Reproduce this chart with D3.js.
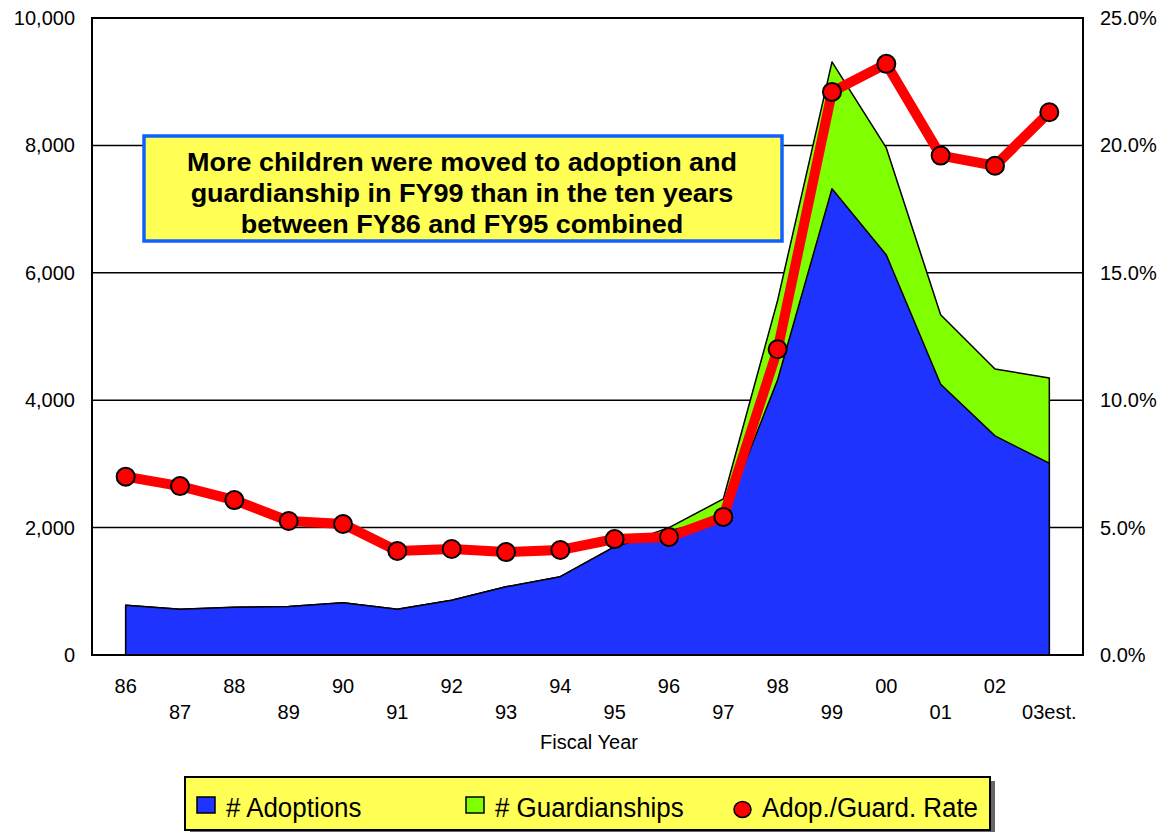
<!DOCTYPE html>
<html>
<head>
<meta charset="utf-8">
<script src="https://cdn.jsdelivr.net/npm/d3@7"></script>
<style>
  body { margin: 0; background: #fff; }
  svg text { font-family: "Liberation Sans", Arial, sans-serif; }
</style>
</head>
<body>
<div id="chart"></div>
<script>
// Data
const years = ["86", "87", "88", "89", "90", "91", "92", "93", "94", "95", "96", "97", "98", "99", "00", "01", "02", "03est."];
const adoptions = [780, 720, 750, 760, 820, 720, 860, 1070, 1230, 1700, 1950, 2150, 4320, 7320, 6280, 4250, 3440, 3010];
const guardianships = [0, 0, 0, 0, 0, 0, 0, 0, 0, 0, 50, 300, 1250, 1990, 1680, 1090, 1050, 1340];
const rate = [7.0, 6.63, 6.08, 5.26, 5.14, 4.08, 4.16, 4.04, 4.12, 4.55, 4.63, 5.42, 12.0, 22.1, 23.2, 19.6, 19.2, 21.3];
const leftTicks = [0, 2000, 4000, 6000, 8000, 10000];
const rightTicks = [0, 5, 10, 15, 20, 25];
const noteLines = ["More children were moved to adoption and", "guardianship in FY99 than in the ten years", "between FY86 and FY95 combined"];

const width = 1160, height = 832;
const plot = { left: 92, right: 1083, top: 18, bottom: 655 };

const svg = d3.select("#chart").append("svg")
    .attr("width", width)
    .attr("height", height);

const x = d3.scalePoint().domain(years).range([plot.left, plot.right]).padding(0.62);
const y = d3.scaleLinear().domain([0, 10000]).range([plot.bottom, plot.top]);
const yr = d3.scaleLinear().domain([0, 25]).range([plot.bottom, plot.top]);

// gridlines
svg.append("g")
    .selectAll("line")
    .data(leftTicks.slice(1, -1))
    .enter().append("line")
    .attr("x1", plot.left).attr("x2", plot.right)
    .attr("y1", d => y(d)).attr("y2", d => y(d))
    .attr("stroke", "#000").attr("stroke-width", 1.5);

// stacked areas
const rows = years.map((yy, i) => ({ year: yy, a: adoptions[i], g: guardianships[i] }));

const areaTotal = d3.area()
    .x(d => x(d.year))
    .y0(y(0))
    .y1(d => y(d.a + d.g));
const areaAdopt = d3.area()
    .x(d => x(d.year))
    .y0(y(0))
    .y1(d => y(d.a));

svg.append("path").datum(rows)
    .attr("d", areaTotal)
    .attr("fill", "#80ff00")
    .attr("stroke", "#000").attr("stroke-width", 1.5).attr("stroke-linejoin", "round");
svg.append("path").datum(rows)
    .attr("d", areaAdopt)
    .attr("fill", "#1f33ff")
    .attr("stroke", "#000").attr("stroke-width", 1.5).attr("stroke-linejoin", "round");

// plot frame
svg.append("rect")
    .attr("x", plot.left).attr("y", plot.top)
    .attr("width", plot.right - plot.left).attr("height", plot.bottom - plot.top)
    .attr("fill", "none").attr("stroke", "#000").attr("stroke-width", 2);

// left axis labels
svg.append("g").selectAll("text")
    .data(leftTicks)
    .enter().append("text")
    .attr("x", 75).attr("y", d => y(d) + 7)
    .attr("text-anchor", "end")
    .attr("font-size", 20)
    .text(d => d3.format(",")(d));

// right axis labels
svg.append("g").selectAll("text")
    .data(rightTicks)
    .enter().append("text")
    .attr("x", 1100).attr("y", d => yr(d) + 7)
    .attr("font-size", 20)
    .text(d => d.toFixed(1) + "%");

// x labels staggered
svg.append("g").selectAll("text")
    .data(years)
    .enter().append("text")
    .attr("x", d => x(d))
    .attr("y", (d, i) => i % 2 === 0 ? 693 : 719)
    .attr("text-anchor", "middle")
    .attr("font-size", 20)
    .text(d => d);

svg.append("text")
    .attr("x", 589).attr("y", 749)
    .attr("text-anchor", "middle")
    .attr("font-size", 20)
    .text("Fiscal Year");

// annotation box
svg.append("rect")
    .attr("x", 144).attr("y", 136)
    .attr("width", 638).attr("height", 105)
    .attr("fill", "#ffff55")
    .attr("stroke", "#1060ff").attr("stroke-width", 3.5);
svg.append("g").selectAll("text")
    .data(noteLines)
    .enter().append("text")
    .attr("x", 0).attr("y", 0)
    .attr("transform", (d, i) => `translate(462,${171 + i * 31}) scale(1.08,1)`)
    .attr("text-anchor", "middle")
    .attr("font-size", 25)
    .attr("font-weight", "bold")
    .text(d => d);

// rate line
const line = d3.line()
    .x((d, i) => x(years[i]))
    .y(d => yr(d));
svg.append("path").datum(rate)
    .attr("d", line)
    .attr("fill", "none")
    .attr("stroke", "#ff0000").attr("stroke-width", 10);
svg.append("g").selectAll("circle")
    .data(rate)
    .enter().append("circle")
    .attr("cx", (d, i) => x(years[i]))
    .attr("cy", d => yr(d))
    .attr("r", 9)
    .attr("fill", "#ff0000")
    .attr("stroke", "#000").attr("stroke-width", 2);

// legend
const lg = svg.append("g");
lg.append("rect")
    .attr("x", 190).attr("y", 781)
    .attr("width", 805).attr("height", 53)
    .attr("fill", "#666");
lg.append("rect")
    .attr("x", 185).attr("y", 777)
    .attr("width", 805).attr("height", 53)
    .attr("fill", "#ffff55")
    .attr("stroke", "#000").attr("stroke-width", 2);

const legendItems = [
    { label: "# Adoptions", color: "#1f33ff", x: 197, type: "rect" },
    { label: "# Guardianships", color: "#80ff00", x: 466, type: "rect" },
    { label: "Adop./Guard. Rate", color: "#ff0000", x: 733, type: "circle" }
];
legendItems.forEach(it => {
    if (it.type === "rect") {
        lg.append("rect")
            .attr("x", it.x).attr("y", 797)
            .attr("width", 18).attr("height", 16)
            .attr("fill", it.color)
            .attr("stroke", "#000").attr("stroke-width", 1.5);
    } else {
        lg.append("ellipse")
            .attr("cx", it.x + 9.5).attr("cy", 809.5)
            .attr("rx", 8.5).attr("ry", 8)
            .attr("fill", it.color)
            .attr("stroke", "#000").attr("stroke-width", 1.5);
    }
    lg.append("text")
        .attr("x", 0).attr("y", 0)
        .attr("transform", `translate(${it.x + 29},817) scale(0.96,1)`)
        .attr("font-size", 27)
        .text(it.label);
});
</script>
</body>
</html>
